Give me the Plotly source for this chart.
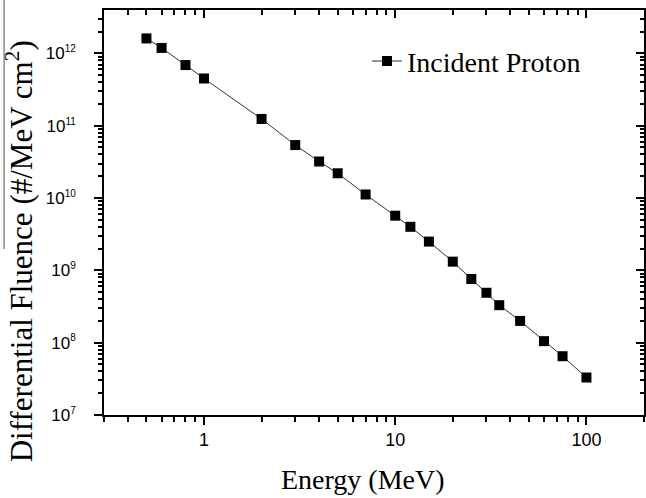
import plotly.graph_objects as go

# ---- data ----
energy_mev = [0.5, 0.6, 0.8, 1, 2, 3, 4, 5, 7, 10, 12, 15, 20, 25, 30, 35, 45, 60, 75, 100]
fluence = [1.61e12, 1.19e12, 6.9e11, 4.5e11, 1.24e11, 5.4e10, 3.2e10, 2.2e10, 1.12e10,
           5.7e9, 4.0e9, 2.5e9, 1.32e9, 7.6e8, 4.9e8, 3.3e8, 2.0e8, 1.05e8, 6.5e7, 3.3e7]
series_name = "Incident Proton"

x_major = [1, 10, 100]
x_major_text = ["1", "10", "100"]
y_major = [1e7, 1e8, 1e9, 1e10, 1e11, 1e12]
y_exponents = ["7", "8", "9", "10", "11", "12"]
x_minor = [k / 10 for k in range(3, 10)] + list(range(2, 10)) + [k * 10 for k in range(2, 10)] + [200]
y_minor = [k * 10 ** d for d in range(7, 13) for k in range(2, 10)]

x_range = [-0.523, 2.301]
y_range = [7, 12.6]

SANS = "Liberation Sans, Arial, sans-serif"
SERIF = "Liberation Serif, Times New Roman, serif"

y_major_text = ["10<sup><span style='font-size:10px'>%s</span></sup>" % e for e in y_exponents]

fig = go.Figure()
fig.add_trace(go.Scatter(
    x=energy_mev, y=fluence, name=series_name, mode="lines+markers",
    line=dict(color="#333333", width=1),
    marker=dict(symbol="square", size=10, color="black"),
))
# invisible trace to anchor mirror axes
fig.add_trace(go.Scatter(x=[1], y=[1e9], xaxis="x2", yaxis="y2", mode="markers",
                         marker=dict(opacity=0), showlegend=False, hoverinfo="skip"))

axis_common = dict(type="log", showgrid=False, zeroline=False, showline=True,
                   linecolor="black", linewidth=1.5, tickcolor="black", tickwidth=1.5)

fig.update_layout(
    width=646, height=498,
    margin=dict(l=104, r=2, t=10, b=83),
    paper_bgcolor="white", plot_bgcolor="white",
    showlegend=True,
    legend=dict(x=0.487, y=0.935, xanchor="left", yanchor="top",
                bgcolor="rgba(0,0,0,0)", font=dict(family=SERIF, size=28, color="black")),
    xaxis=dict(**axis_common, range=x_range, ticks="outside", ticklen=8,
               tickvals=x_major, ticktext=x_major_text,
               tickfont=dict(family=SANS, size=18, color="black"),
               minor=dict(tickvals=x_minor, ticks="outside", ticklen=5, tickcolor="black", tickwidth=1.5)),
    yaxis=dict(**axis_common, range=y_range, ticks="outside", ticklen=8,
               tickvals=y_major, ticktext=y_major_text, ticklabelstandoff=15,
               tickfont=dict(family=SANS, size=17, color="black"),
               minor=dict(tickvals=y_minor, ticks="outside", ticklen=4, tickcolor="black", tickwidth=1.5)),
    xaxis2=dict(**axis_common, range=x_range, overlaying="x", side="top", anchor="y2",
                ticks="inside", ticklen=8, tickvals=x_major, showticklabels=False,
                minor=dict(tickvals=x_minor, ticks="inside", ticklen=5, tickcolor="black", tickwidth=1.5)),
    yaxis2=dict(**axis_common, range=y_range, overlaying="y", side="right", anchor="x2",
                ticks="inside", ticklen=8, tickvals=y_major, showticklabels=False,
                minor=dict(tickvals=y_minor, ticks="inside", ticklen=4, tickcolor="black", tickwidth=1.5)),
    annotations=[
        dict(text="Energy (MeV)", xref="paper", yref="paper", x=0.48, y=-0.16,
             xanchor="center", yanchor="middle", showarrow=False,
             font=dict(family=SERIF, size=28, color="black")),
        dict(text="Differential Fluence (#/MeV cm<sup>2</sup>)", xref="paper", yref="paper",
             x=-0.155, y=0.405, xanchor="center", yanchor="middle", textangle=-90, showarrow=False,
             font=dict(family=SERIF, size=31, color="black")),
    ],
    shapes=[
        dict(type="line", xref="paper", yref="paper", x0=-0.185, x1=-0.185, y0=1.025, y1=0.41,
             line=dict(color="#888888", width=1.5)),
    ],
)

fig.write_html("out.html", config={"displayModeBar": False},
               post_script="document.body.style.margin='0';document.body.style.overflow='hidden';")
